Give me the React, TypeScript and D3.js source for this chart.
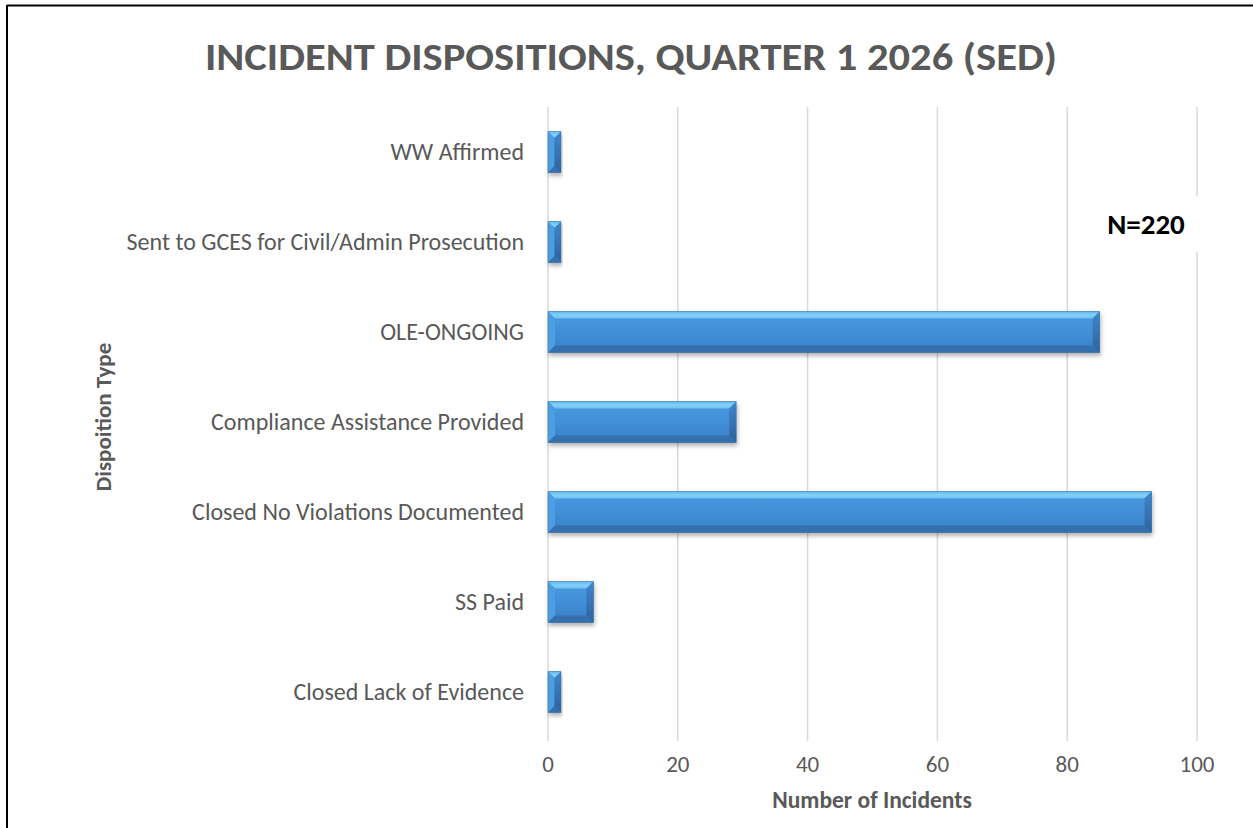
import React from "react";
import * as d3 from "d3";

const categories = [
  "WW Affirmed",
  "Sent to GCES for Civil/Admin Prosecution",
  "OLE-ONGOING",
  "Compliance Assistance Provided",
  "Closed No Violations Documented",
  "SS Paid",
  "Closed Lack of Evidence",
];
const values = [2, 2, 85, 29, 93, 7, 2];
const xTicks = [0, 20, 40, 60, 80, 100];
const titleText = "INCIDENT DISPOSITIONS, QUARTER 1 2026 (SED)";
const xTitle = "Number of Incidents";
const yTitle = "Dispoition Type";
const nLabel = "N=220";

const W = 1253;
const H = 828;
const FONT = "Carlito, Calibri, Lato, 'Open Sans', sans-serif";
const GREY = "#595959";

export default function App() {
  const x = d3.scaleLinear().domain([0, 100]).range([548, 1197]);
  const y = d3.scaleBand<string>().domain(categories).range([107, 737]).paddingInner(0.545).paddingOuter(0.2725);

  const bars = categories.map((c, i) => {
    const x0 = x(0);
    const x1 = x(values[i]);
    const y0 = y(c)!;
    const h = y.bandwidth();
    const w = x1 - x0;
    const b = Math.min(7, w / 2, h / 2);
    const y1 = y0 + h;
    return (
      <g key={c} filter="url(#shadow)">
        <rect x={x0} y={y0} width={w} height={h} fill="url(#mainGrad)" />
        <polygon points={`${x0},${y0} ${x1},${y0} ${x1 - b},${y0 + b} ${x0 + b},${y0 + b}`} fill="url(#topGrad)" />
        <polygon points={`${x0},${y0} ${x0 + b},${y0 + b} ${x0 + b},${y1 - b} ${x0},${y1}`} fill="#4b9ee2" />
        <polygon points={`${x0},${y1} ${x0 + b},${y1 - b} ${x1 - b},${y1 - b} ${x1},${y1}`} fill="#3470ae" />
        <polygon points={`${x1},${y0} ${x1},${y1} ${x1 - b},${y1 - b} ${x1 - b},${y0 + b}`} fill="url(#rightGrad)" />
        <rect x={x0} y={y0} width={w} height={h} fill="none" stroke="#2d5f94" strokeOpacity={0.5} strokeWidth={0.8} />
      </g>
    );
  });

  return (
    <svg width={W} height={H} style={{ position: "absolute", left: 0, top: 0, background: "#fff" }} fontFamily={FONT}>
      <defs>
        <linearGradient id="mainGrad" x1="0" y1="0" x2="0" y2="1">
          <stop offset="0" stopColor="#4a9be0" />
          <stop offset="0.5" stopColor="#418fd7" />
          <stop offset="1" stopColor="#3a80c6" />
        </linearGradient>
        <linearGradient id="topGrad" x1="0" y1="0" x2="0" y2="1">
          <stop offset="0" stopColor="#5fb6ee" />
          <stop offset="0.5" stopColor="#85d2fa" />
          <stop offset="1" stopColor="#6cc0f2" />
        </linearGradient>
        <linearGradient id="rightGrad" x1="0" y1="0" x2="0" y2="1">
          <stop offset="0" stopColor="#3f86cc" />
          <stop offset="1" stopColor="#2e639c" />
        </linearGradient>
        <filter id="shadow" x="-10%" y="-20%" width="120%" height="160%">
          <feDropShadow dx="1" dy="3" stdDeviation="2" floodColor="#000" floodOpacity="0.3" />
        </filter>
      </defs>
      <rect x={0} y={0} width={W} height={H} fill="#fff" />
      {/* frame */}
      <line x1={7} y1={5.5} x2={W} y2={5.5} stroke="#000" strokeWidth={2} />
      <line x1={7} y1={5} x2={7} y2={H} stroke="#000" strokeWidth={2} />

      {/* title */}
      <text x={631} y={70} textAnchor="middle" fontSize={38} fontWeight="bold" fill={GREY} textLength={852} lengthAdjust="spacingAndGlyphs">
        {titleText}
      </text>

      {/* gridlines */}
      {xTicks.map((t) => (
        <line key={t} x1={x(t)} x2={x(t)} y1={107} y2={741} stroke="#d9d9d9" strokeWidth={1.5} />
      ))}
      {/* tick labels */}
      {xTicks.map((t) => (
        <text key={"l" + t} x={x(t)} y={772} textAnchor="middle" fontSize={23} fill={GREY}>
          {t}
        </text>
      ))}

      {/* category labels */}
      {categories.map((c) => (
        <text key={"c" + c} x={524} y={y(c)! + y.bandwidth() / 2 + 8} textAnchor="end" fontSize={24} fill={GREY}>
          {c}
        </text>
      ))}

      {bars}

      {/* N label */}
      <rect x={1098} y={196} width={104} height={56} fill="#fff" />
      <text x={1146} y={234} textAnchor="middle" fontSize={29} fontWeight="bold" fill="#000">
        {nLabel}
      </text>

      {/* axis titles */}
      <text x={872} y={808} textAnchor="middle" fontSize={23.5} fontWeight="bold" fill={GREY}>
        {xTitle}
      </text>
      <text transform={`translate(111,417) rotate(-90)`} textAnchor="middle" fontSize={23} fontWeight="bold" fill={GREY}>
        {yTitle}
      </text>
    </svg>
  );
}
